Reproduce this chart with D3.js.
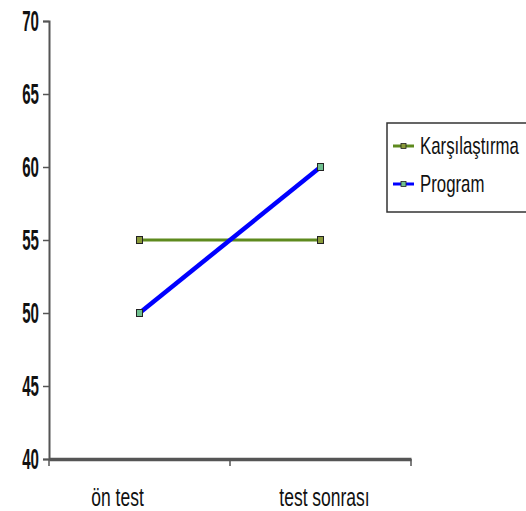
<!DOCTYPE html>
<html><head><meta charset="utf-8">
<script src="https://cdn.jsdelivr.net/npm/d3@7"></script>
<style>body{margin:0;background:#fff}</style>
</head><body>
<script>
const categories = ["ön test", "test sonrası"];
const seriesNames = ["Karşılaştırma", "Program"];
const karsilastirma = [55, 55];
const program = [50, 60];
const yTicks = [40, 45, 50, 55, 60, 65, 70];
const colors = ["#5e8a1e", "#0000ff"];

const W = 526, H = 511;
const svg = d3.select("body").append("svg").attr("width", W).attr("height", H);
const font = "'Liberation Sans', Arial, sans-serif";

const x = d3.scaleBand().domain(categories).range([49, 411]);
const y = d3.scaleLinear().domain([40, 70]).range([459, 21]);

// y axis
const ya = svg.append("g").attr("transform", "translate(49,0)")
  .call(d3.axisLeft(y).tickValues(yTicks).tickSize(6).tickFormat(""));
ya.select(".domain").attr("stroke", "#555").attr("stroke-width", 2);
ya.selectAll(".tick line").attr("stroke", "#555").attr("stroke-width", 1.5);
svg.append("g").selectAll("text").data(yTicks).join("text")
  .attr("transform", d => `translate(39,${y(d)}) scale(0.52,1)`)
  .attr("dy", "0.36em").attr("text-anchor", "end")
  .attr("font-family", font).attr("font-weight", "bold")
  .attr("font-size", 29).attr("fill", "#111").text(d => d);

// x axis
const xa = svg.append("g").attr("transform", "translate(0,459)")
  .call(d3.axisBottom(x).tickSize(0).tickPadding(0));
xa.select(".domain").attr("stroke", "#555").attr("stroke-width", 3.5);
xa.selectAll(".tick text").remove();
const bounds = [x.range()[0], x(categories[1]), x.range()[1]];
svg.append("g").selectAll("line").data(bounds).join("line")
  .attr("x1", d => d).attr("x2", d => d).attr("y1", 459).attr("y2", 466)
  .attr("stroke", "#555").attr("stroke-width", 1.5);
svg.append("g").selectAll("text").data(categories).join("text")
  .attr("transform", d => `translate(${x(d) + x.bandwidth() / 2 + (d === categories[0] ? -22 : 4)},506) scale(0.7,1)`)
  .attr("text-anchor", "middle")
  .attr("font-family", font).attr("font-size", 25).attr("fill", "#111")
  .text(d => d);

const cx = d => x(d) + x.bandwidth() / 2;
const line = d3.line().x((d, i) => cx(categories[i])).y(d => y(d));
const data = [karsilastirma, program];
const widths = [3, 4.5];

data.forEach((vals, si) => {
  svg.append("path").datum(vals).attr("d", line)
    .attr("fill", "none").attr("stroke", colors[si]).attr("stroke-width", widths[si]);
});
data.forEach((vals, si) => {
  svg.append("g").selectAll("rect").data(vals).join("rect")
    .attr("x", (d, i) => cx(categories[i]) - 3).attr("y", d => y(d) - 3.5)
    .attr("width", 6).attr("height", 7)
    .attr("fill", si === 0 ? "#8a9a3a" : "#6fbf8f").attr("stroke", "#222").attr("stroke-width", 1);
});

// legend
const lg = svg.append("g");
lg.append("rect").attr("x", 387).attr("y", 123).attr("width", 150).attr("height", 89)
  .attr("fill", "#fff").attr("stroke", "#333").attr("stroke-width", 1.5);
seriesNames.forEach((n, i) => {
  const ly = 146 + i * 38;
  lg.append("line").attr("x1", 393).attr("x2", 414).attr("y1", ly).attr("y2", ly)
    .attr("stroke", colors[i]).attr("stroke-width", 3);
  lg.append("rect").attr("x", 401).attr("y", ly - 2.5).attr("width", 5).attr("height", 5)
    .attr("fill", i === 0 ? "#8a9a3a" : "#6fbf8f").attr("stroke", "#222").attr("stroke-width", 0.8);
  lg.append("text").attr("transform", `translate(420,${ly + 8}) scale(0.7,1)`)
    .attr("font-family", font).attr("font-size", 24).attr("fill", "#111").text(n);
});
</script>
</body></html>
